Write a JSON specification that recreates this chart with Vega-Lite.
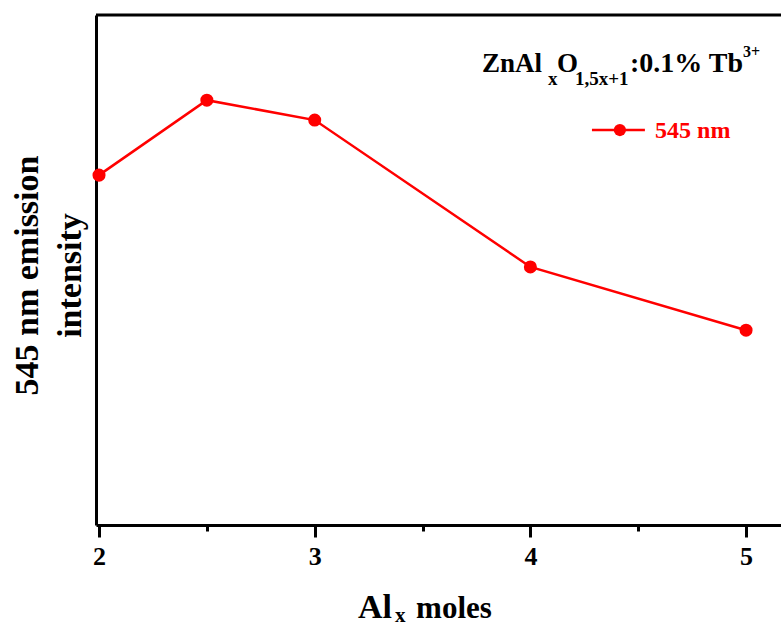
{
  "$schema": "https://vega.github.io/schema/vega-lite/v6.json",
  "width": 685,
  "height": 510,
  "autosize": {"type": "none"},
  "padding": {"left": 96, "top": 15, "right": 0, "bottom": 102},
  "background": "white",
  "config": {"view": {"stroke": null}, "font": "Liberation Serif"},
  "layer": [
    {
      "data": {"values": [
        {"al": 2, "intensity": 68.6},
        {"al": 2.5, "intensity": 83.3},
        {"al": 3, "intensity": 79.4},
        {"al": 4, "intensity": 50.6},
        {"al": 5, "intensity": 38.2}
      ]},
      "layer": [
        {
          "mark": {"type": "line", "color": "#ff0000", "strokeWidth": 2.5},
          "encoding": {
            "x": {
              "field": "al", "type": "quantitative",
              "scale": {"domain": [1.986, 5.162], "nice": false, "zero": false},
              "axis": {
                "values": [2, 2.5, 3, 3.5, 4, 4.5, 5],
                "labelExpr": "datum.value % 1 === 0 ? format(datum.value, 'd') : ''",
                "tickSize": {"condition": {"test": "datum.value % 1 !== 0", "value": 6}, "value": 12},
                "tickWidth": 3,
                "tickColor": "black",
                "domainColor": "black",
                "domainWidth": 3,
                "labelFont": "Liberation Serif",
                "labelFontWeight": "bold",
                "labelFontSize": 26,
                "labelColor": "black",
                "labelPadding": 6,
                "labelFlush": false,
                "labelOverlap": false,
                "grid": false,
                "title": null
              }
            },
            "y": {
              "field": "intensity", "type": "quantitative",
              "scale": {"domain": [0, 100], "nice": false, "zero": false},
              "axis": {
                "domain": true,
                "domainColor": "black",
                "domainWidth": 3,
                "ticks": false,
                "labels": false,
                "grid": false,
                "title": ["545 nm emission", "intensity"],
                "titleFont": "Liberation Serif",
                "titleFontWeight": "bold",
                "titleFontSize": 34,
                "titleColor": "black",
                "titleLineHeight": 43,
                "titleX": -59,
                "titleY": 260,
                "titleAngle": -90,
                "titleAlign": "center",
                "titleBaseline": "alphabetic"
              }
            }
          }
        },
        {
          "mark": {"type": "point", "filled": true, "color": "#ff0000", "size": 170, "opacity": 1},
          "encoding": {
            "x": {"field": "al", "type": "quantitative"},
            "y": {"field": "intensity", "type": "quantitative"}
          }
        }
      ]
    },
    {
      "data": {"values": [{}]},
      "mark": {"type": "rule", "color": "black", "strokeWidth": 3},
      "encoding": {"y": {"datum": 100}}
    },
    {
      "data": {"values": [{}]},
      "mark": {"type": "rule", "color": "#ff0000", "strokeWidth": 2.5},
      "encoding": {"x": {"datum": 4.2855}, "x2": {"datum": 4.531}, "y": {"datum": 77.45}}
    },
    {
      "data": {"values": [{}]},
      "mark": {"type": "point", "filled": true, "color": "#ff0000", "size": 150, "opacity": 1},
      "encoding": {"x": {"datum": 4.415}, "y": {"datum": 77.45}}
    },
    {
      "data": {"values": [{}]},
      "mark": {"type": "text", "text": "545 nm", "align": "left", "baseline": "alphabetic", "font": "Liberation Serif", "fontWeight": "bold", "fontSize": 24, "color": "#ff0000"},
      "encoding": {"x": {"datum": 4.578}, "y": {"datum": 75.88}}
    },
    {
      "data": {"values": [{}]},
      "mark": {"type": "text", "text": "ZnAl", "align": "left", "baseline": "alphabetic", "font": "Liberation Serif", "fontWeight": "bold", "fontSize": 27, "color": "black"},
      "encoding": {"x": {"datum": 3.776}, "y": {"datum": 88.82}}
    },
    {
      "data": {"values": [{}]},
      "mark": {"type": "text", "text": "x", "align": "left", "baseline": "alphabetic", "font": "Liberation Serif", "fontWeight": "bold", "fontSize": 19, "color": "black"},
      "encoding": {"x": {"datum": 4.0815}, "y": {"datum": 86.27}}
    },
    {
      "data": {"values": [{}]},
      "mark": {"type": "text", "text": "O", "align": "left", "baseline": "alphabetic", "font": "Liberation Serif", "fontWeight": "bold", "fontSize": 27, "color": "black"},
      "encoding": {"x": {"datum": 4.123}, "y": {"datum": 88.82}}
    },
    {
      "data": {"values": [{}]},
      "mark": {"type": "text", "text": "1,5x+1", "align": "left", "baseline": "alphabetic", "font": "Liberation Serif", "fontWeight": "bold", "fontSize": 19, "color": "black"},
      "encoding": {"x": {"datum": 4.207}, "y": {"datum": 86.27}}
    },
    {
      "data": {"values": [{}]},
      "mark": {"type": "text", "text": ":0.1% Tb", "align": "left", "baseline": "alphabetic", "font": "Liberation Serif", "fontWeight": "bold", "fontSize": 28, "color": "black"},
      "encoding": {"x": {"datum": 4.462}, "y": {"datum": 88.82}}
    },
    {
      "data": {"values": [{}]},
      "mark": {"type": "text", "text": "3+", "align": "left", "baseline": "alphabetic", "font": "Liberation Serif", "fontWeight": "bold", "fontSize": 16, "color": "black"},
      "encoding": {"x": {"datum": 4.986}, "y": {"datum": 91.76}}
    },
    {
      "data": {"values": [{}]},
      "mark": {"type": "text", "text": "Al", "align": "left", "baseline": "alphabetic", "font": "Liberation Serif", "fontWeight": "bold", "fontSize": 34, "color": "black"},
      "encoding": {"x": {"datum": 3.2007}, "y": {"datum": -18.24}}
    },
    {
      "data": {"values": [{}]},
      "mark": {"type": "text", "text": "x", "align": "left", "baseline": "alphabetic", "font": "Liberation Serif", "fontWeight": "bold", "fontSize": 21, "color": "black"},
      "encoding": {"x": {"datum": 3.372}, "y": {"datum": -19.0}}
    },
    {
      "data": {"values": [{}]},
      "mark": {"type": "text", "text": "moles", "align": "left", "baseline": "alphabetic", "font": "Liberation Serif", "fontWeight": "bold", "fontSize": 31, "color": "black"},
      "encoding": {"x": {"datum": 3.47}, "y": {"datum": -18.24}}
    }
  ]
}
